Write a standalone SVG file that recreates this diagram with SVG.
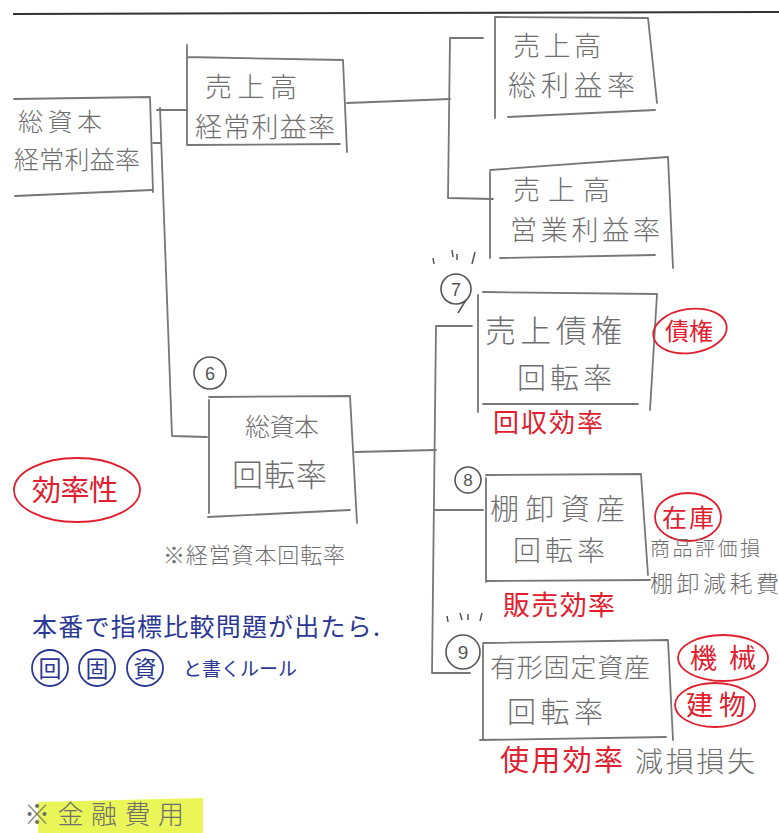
<svg xmlns="http://www.w3.org/2000/svg" width="779" height="833" viewBox="0 0 779 833">
<style>
.bx{fill:none;stroke:#777;stroke-width:1.8;stroke-linecap:round;stroke-linejoin:round}
.cn{fill:none;stroke:#777;stroke-width:1.8;stroke-linecap:round;stroke-linejoin:round}
.t{font-family:"Noto Sans CJK JP","Noto Sans CJK SC",sans-serif;font-weight:300;fill:#6e6e6e}
.r{font-family:"Noto Sans CJK JP","Noto Sans CJK SC",sans-serif;font-weight:400;fill:#e0202e}
.b{font-family:"Noto Sans CJK JP","Noto Sans CJK SC",sans-serif;font-weight:400;fill:#2b3793}
.ro{fill:none;stroke:#e0202e;stroke-width:1.8}
.bo{fill:none;stroke:#2b3793;stroke-width:1.8}
.num{fill:none;stroke:#555;stroke-width:1.6}
.nt{font-family:"Liberation Sans",sans-serif;fill:#555}
</style>
<rect width="779" height="833" fill="#fff"/>
<line x1="13" y1="14" x2="779" y2="12" stroke="#333" stroke-width="2"/>

<g id="connectors">
<path class="cn" d="M153,143 L161,143"/>
<path class="cn" d="M157,110 L187,110"/>
<path class="cn" d="M160,108 L172,436 L207,437"/>
<path class="cn" d="M347,103 L450,99"/>
<path class="cn" d="M483,38 L450,38 L448,198 L493,199"/>
<path class="cn" d="M355,452 L436,450"/>
<path class="cn" d="M472,326 L436,326 L432,673 L470,673"/>
<path class="cn" d="M434,510 L483,510"/>
</g>

<g id="n-soshihon-keijo">
<path class="bx" d="M14,99 L150,97 L153,192 M15,196 L152,190"/>
<text class="t" x="18" y="131" font-size="25" textLength="84">総資本</text>
<text class="t" x="14" y="169" font-size="25" textLength="126">経常利益率</text>
</g>

<g id="n-uriage-keijo">
<path class="bx" d="M187,45 L187,145 L340,144 M187,57 L343,60 L347,152"/>
<text class="t" x="205" y="97" font-size="27" textLength="92">売上高</text>
<text class="t" x="195" y="137" font-size="27" textLength="140">経常利益率</text>
</g>

<g id="n-uriage-sori">
<path class="bx" d="M495,17 L495,118 M495,17 L648,18 L657,103 M508,117 L655,110"/>
<text class="t" x="513" y="56" font-size="27" textLength="88">売上高</text>
<text class="t" x="508" y="96" font-size="28" textLength="127">総利益率</text>
</g>

<g id="n-uriage-eigyo">
<path class="bx" d="M490,172 L490,258 M490,170 L668,157 L673,268 M500,258 L655,255"/>
<text class="t" x="513" y="200" font-size="27" textLength="97">売上高</text>
<text class="t" x="510" y="240" font-size="27" textLength="150">営業利益率</text>
</g>

<g id="n-soshihon-kaiten">
<path class="bx" d="M209,400 L209,513 M209,397 L350,396 L357,523 M208,517 L350,510"/>
<circle class="num" cx="210" cy="373" r="16"/>
<text class="nt" x="210" y="380" font-size="18" text-anchor="middle">6</text>
<text class="t" x="245" y="436" font-size="25" textLength="74">総資本</text>
<text class="t" x="232" y="486" font-size="31" textLength="95">回転率</text>
<text class="t" x="163" y="563" font-size="22" textLength="182">※経営資本回転率</text>
</g>

<g id="n-urikake">
<path class="bx" d="M478,295 L478,412 M483,292 L657,294 L650,410 M483,404 L638,404"/>
<path d="M433,258 L434,264 M452,250 L453,257 M457,254 L457,260 M475,252 L472,264" stroke="#555" stroke-width="1.5" fill="none"/>
<circle class="num" cx="456" cy="289" r="15"/>
<path d="M466,300 L458,313" stroke="#555" stroke-width="1.5"/>
<text class="nt" x="456" y="296" font-size="18" text-anchor="middle">7</text>
<text class="t" x="485" y="342" font-size="31" textLength="137">売上債権</text>
<text class="t" x="517" y="389" font-size="29" textLength="95">回転率</text>
<text class="r" x="493" y="432" font-size="26" textLength="110">回収効率</text>
<ellipse class="ro" cx="690" cy="331" rx="37" ry="22" transform="rotate(-8 690 331)"/>
<text class="r" x="665" y="340" font-size="24" textLength="48">債権</text>
</g>

<g id="n-tanaoroshi">
<path class="bx" d="M486,478 L486,582 M486,475 L641,474 L648,575 M486,581 L650,580"/>
<circle class="num" cx="468" cy="480" r="13"/>
<text class="nt" x="468" y="486" font-size="17" text-anchor="middle">8</text>
<text class="t" x="490" y="520" font-size="29" textLength="135">棚卸資産</text>
<text class="t" x="513" y="561" font-size="28" textLength="92">回転率</text>
<text class="r" x="503" y="615" font-size="27" textLength="112">販売効率</text>
<ellipse class="ro" cx="688" cy="517" rx="33" ry="24"/>
<text class="r" x="662" y="527" font-size="25" textLength="52">在庫</text>
<text class="t" x="650" y="556" font-size="20" textLength="110">商品評価損</text>
<text class="t" x="650" y="592" font-size="23" textLength="129">棚卸減耗費</text>
</g>

<g id="n-yukei">
<path class="bx" d="M483,645 L483,740 M483,643 L668,640 L673,740 M480,740 L666,737"/>
<path d="M447,616 L448,622 M460,613 L462,620 M468,614 L468,620 M482,613 L480,621" stroke="#555" stroke-width="1.5" fill="none"/>
<circle class="num" cx="463" cy="652" r="17"/>
<text class="nt" x="463" y="659" font-size="19" text-anchor="middle">9</text>
<text class="t" x="490" y="677" font-size="26" textLength="160">有形固定資産</text>
<text class="t" x="507" y="723" font-size="29" textLength="96">回転率</text>
<text class="r" x="500" y="771" font-size="29" textLength="123">使用効率</text>
<text class="t" x="635" y="772" font-size="28" textLength="120">減損損失</text>
<ellipse class="ro" cx="723" cy="658" rx="45" ry="23"/>
<text class="r" x="690" y="668" font-size="27" textLength="66">機械</text>
<ellipse class="ro" cx="715" cy="705" rx="40" ry="22"/>
<text class="r" x="686" y="715" font-size="27" textLength="60">建物</text>
</g>

<g id="n-koritsusei">
<ellipse class="ro" cx="77" cy="490" rx="63" ry="32"/>
<text class="r" x="32" y="501" font-size="29" textLength="86">効率性</text>
</g>

<g id="n-note">
<text class="b" x="32" y="636" font-size="25" textLength="348">本番で指標比較問題が出たら.</text>
<circle class="bo" cx="50" cy="668" r="18"/>
<text class="b" x="50" y="677" font-size="23" text-anchor="middle">回</text>
<circle class="bo" cx="97" cy="668" r="18"/>
<text class="b" x="97" y="677" font-size="23" text-anchor="middle">固</text>
<circle class="bo" cx="145" cy="668" r="18"/>
<text class="b" x="145" y="677" font-size="23" text-anchor="middle">資</text>
<text class="b" x="183" y="676" font-size="19">と書くルール</text>
</g>

<g id="n-kinyu">
<path d="M38,802 L203,798 L203,833 L38,833 Z" fill="#e6f53a" opacity="0.85"/>
<text class="t" x="24" y="824" font-size="26" textLength="160" fill="#555">※金融費用</text>
</g>
</svg>
